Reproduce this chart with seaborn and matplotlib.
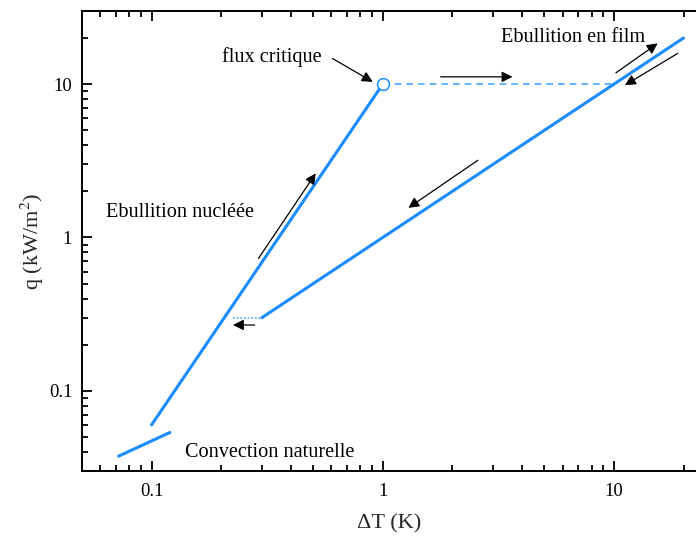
import numpy as np
import pandas as pd
import matplotlib
matplotlib.use("Agg")
import matplotlib.pyplot as plt
from matplotlib.ticker import FixedLocator, FixedFormatter, LogLocator, NullFormatter
import seaborn as sns

# Boiling curve segments (ΔT in K, q in kW/m²)
conv_dT = [0.072, 0.12]
conv_q = [0.0375, 0.0535]
nucl_dT = [0.1, 1.0]
nucl_q = [0.06, 10.0]
film_dT = [0.3, 20.0]
film_q = [0.3, 20.0]
jump_dT = [1.0, 10.0]
jump_q = [10.0, 10.0]
drop_dT = [0.225, 0.3]
drop_q = [0.3, 0.3]
chf_dT = [1.0]
chf_q = [10.0]

tick_values = [0.1, 1, 10]
tick_labels = ["0.1", "1", "10"]

sns.set_style("ticks")
plt.rcParams["font.family"] = ["Liberation Serif", "DejaVu Serif"]
plt.rcParams["mathtext.fontset"] = "stix"

blue = "#1a8cff"
light = "#4da6ff"

fig = plt.figure(figsize=(6.96, 5.38), dpi=100)
ax = fig.add_axes([82 / 696, 67 / 538, (696 - 82) / 696, 460 / 538])

for xs, ys in [(conv_dT, conv_q), (nucl_dT, nucl_q), (film_dT, film_q)]:
    sns.lineplot(x=xs, y=ys, ax=ax, color=blue, lw=2.2, sort=False)
sns.lineplot(x=jump_dT, y=jump_q, ax=ax, color=light, lw=1.2, sort=False,
             linestyle=(0, (4, 3)))
sns.lineplot(x=drop_dT, y=drop_q, ax=ax, color=light, lw=1.2, sort=False,
             linestyle=(0, (1, 1.2)))
ax.plot(chf_dT, chf_q, "o", ms=8.5, mfc="white", mec=blue, mew=1.1, zorder=5)

ax.set_xscale("log")
ax.set_yscale("log")
ax.set_xlim(0.05, 22.65)
ax.set_ylim(0.03, 30)

for axis in (ax.xaxis, ax.yaxis):
    axis.set_major_locator(FixedLocator(tick_values))
    axis.set_major_formatter(FixedFormatter(tick_labels))
    axis.set_minor_locator(LogLocator(base=10, subs=np.arange(2, 10)))
    axis.set_minor_formatter(NullFormatter())

ax.tick_params(which="both", direction="in", top=True, right=False,
               width=1.3, labelsize=13.5, colors="black")
ax.tick_params(which="major", length=7)
ax.tick_params(which="minor", length=4)
ax.tick_params(axis="x", pad=9)
ax.tick_params(axis="y", pad=7)
for s in ("left", "bottom", "top"):
    ax.spines[s].set_linewidth(1.4)
    ax.spines[s].set_color("black")
ax.spines["right"].set_visible(False)

ax.set_xlabel("ΔT (K)", fontsize=16, labelpad=10)
ax.set_ylabel("q (kW/m$^2$)", fontsize=16, labelpad=2)

# Direction arrows along the boiling curve
arrows = [
    ((0.606, 14.7), (0.905, 10.35)),
    ((1.78, 11.16), (3.64, 11.16)),
    ((10.2, 11.85), (15.46, 18.45)),
    ((18.87, 15.87), (11.16, 9.85)),
    ((2.58, 3.19), (1.29, 1.56)),
    ((0.29, 0.73), (0.513, 2.62)),
    ((0.279, 0.2688), (0.2249, 0.2688)),
]
for start, end in arrows:
    ax.annotate("", xy=end, xytext=start,
                arrowprops=dict(arrowstyle="-|>", color="black", lw=0.9,
                                mutation_scale=16, shrinkA=0, shrinkB=0))

text_kw = dict(fontsize=14.6, va="center", ha="left", color="black")
ax.text(0.201, 15.0, "flux critique", **text_kw)
ax.text(3.24, 20.3, "Ebullition en film", **text_kw)
ax.text(0.0638, 1.457, "Ebullition nucléée", **text_kw)
ax.text(0.140, 0.0394, "Convection naturelle", **text_kw)

fig.savefig("out.png", dpi=100)
